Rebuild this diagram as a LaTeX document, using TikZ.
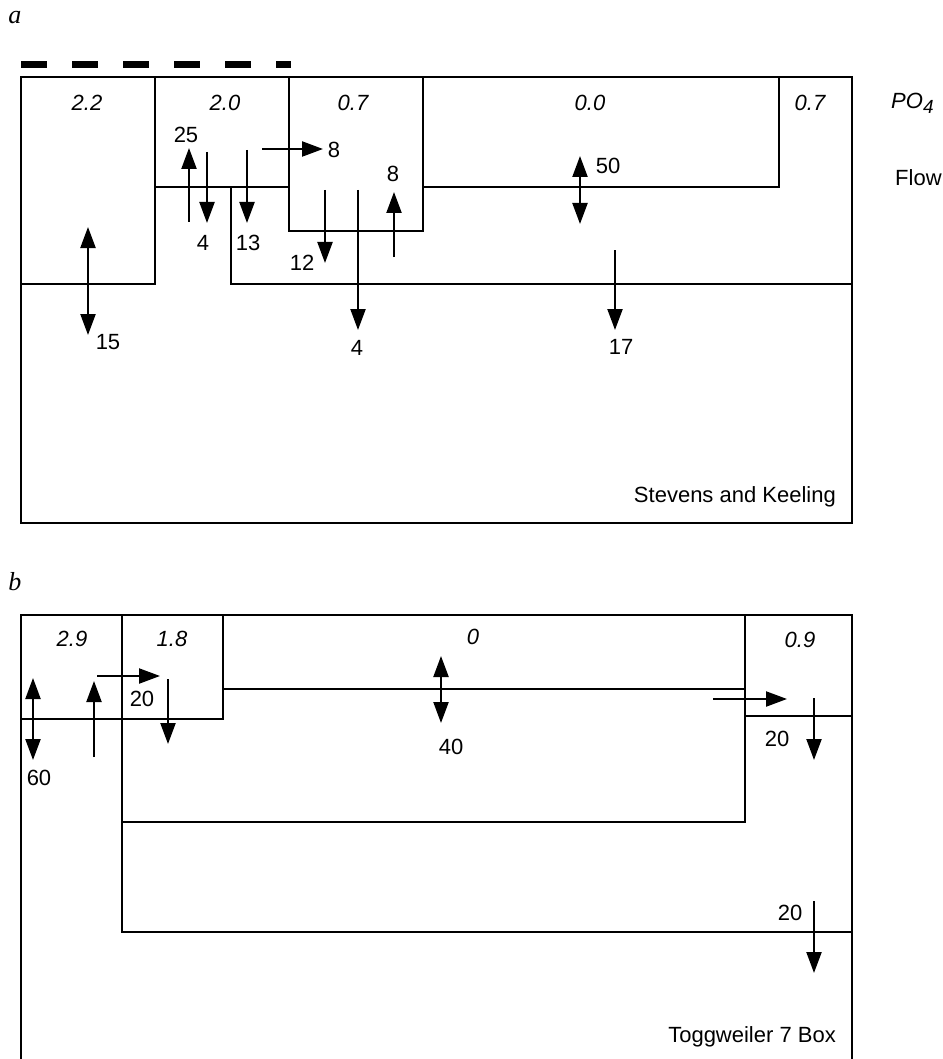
\documentclass[tikz,border=0pt]{standalone}
\usepackage{fontspec}
\setmainfont{Liberation Sans}
\newfontfamily\panelfont{Liberation Serif}
\usetikzlibrary{arrows.meta}

\begin{document}
\begin{tikzpicture}[
  x=1pt, y=-1pt,
  wall/.style={line width=2pt, line cap=rect},
  arrow/.style={-{Triangle[length=21pt, width=15pt]}, line width=2.2pt},
  twoway/.style={{Triangle[length=21pt, width=15pt]}-{Triangle[length=21pt, width=15pt]}, line width=2.2pt},
  conc/.style={font=\fontsize{22}{26}\selectfont\itshape, inner sep=0pt},
  flux/.style={font=\fontsize{22}{26}\selectfont, inner sep=0pt},
  panel/.style={font=\panelfont\fontsize{26}{30}\selectfont\itshape, inner sep=0pt},
]
  \useasboundingbox (0,0) rectangle (942,1059);

  % panel a: Stevens and Keeling
  \node[panel] (lbl_a) at (15,18) {a};
  \draw[line width=7pt, dash pattern=on 26pt off 25pt] (21,65) -- (291,65);
  \draw[wall] (21,77) rectangle (852,523);
  \draw[wall] (155,77) -- (155,284) -- (21,284);
  \draw[wall] (155,187) -- (289,187);
  \draw[wall] (289,77) -- (289,231) -- (423,231) -- (423,77);
  \draw[wall] (231,187) -- (231,284) -- (852,284);
  \draw[wall] (423,187) -- (779,187) -- (779,77);

  \node[conc] (a_polar)  at (87,103)  {2.2};
  \node[conc] (a_sub)    at (225,103) {2.0};
  \node[conc] (a_trans)  at (353,103) {0.7};
  \node[conc] (a_low)    at (590,103) {0.0};
  \node[conc] (a_north)  at (810,103) {0.7};
  \node[conc, anchor=west] (a_po4) at (891,103) {PO\raisebox{-5pt}{\fontsize{19}{21}\selectfont 4}};
  \node[flux, anchor=west] (a_flow) at (895,178) {Flow};
  \node[flux, anchor=south east] (a_name) at (836,507) {Stevens and Keeling};

  \draw[twoway] (88,227) -- (88,335);
  \node[flux] (f15) at (108,342) {15};
  \draw[arrow] (189,222) -- (189,148);
  \node[flux] (f25) at (186,135) {25};
  \draw[arrow] (207,152) -- (207,223);
  \node[flux] (f4a) at (203,243) {4};
  \draw[arrow] (247,150) -- (247,223);
  \node[flux] (f13) at (248,243) {13};
  \draw[arrow] (262,149) -- (323,149);
  \node[flux] (f8a) at (334,150) {8};
  \draw[arrow] (325,190) -- (325,263);
  \node[flux] (f12) at (302,263) {12};
  \draw[arrow] (358,190) -- (358,330);
  \node[flux] (f4b) at (357,348) {4};
  \draw[arrow] (394,257) -- (394,192);
  \node[flux] (f8b) at (393,174) {8};
  \draw[twoway] (580,156) -- (580,224);
  \node[flux] (f50) at (608,166) {50};
  \draw[arrow] (615,250) -- (615,330);
  \node[flux] (f17) at (621,347) {17};

  % panel b: Toggweiler 7 Box
  \node[panel] (lbl_b) at (15,582) {b};
  \draw[wall] (21,1059) -- (21,615) -- (852,615) -- (852,1059);
  \draw[wall] (21,719) -- (223,719) -- (223,615);
  \draw[wall] (122,615) -- (122,932) -- (852,932);
  \draw[wall] (223,689) -- (745,689);
  \draw[wall] (745,615) -- (745,822) -- (122,822);
  \draw[wall] (745,716) -- (852,716);

  \node[conc] (b_polar) at (72,639)  {2.9};
  \node[conc] (b_sub)   at (172,639) {1.8};
  \node[conc] (b_low)   at (473,637) {0};
  \node[conc] (b_north) at (800,640) {0.9};
  \node[flux, anchor=south east] (b_name) at (836,1047) {Toggweiler 7 Box};

  \draw[twoway] (33,678) -- (33,760);
  \node[flux] (f60) at (39,778) {60};
  \draw[arrow] (94,757) -- (94,681);
  \draw[arrow] (97,676) -- (160,676);
  \node[flux] (f20a) at (142,699) {20};
  \draw[arrow] (168,679) -- (168,744);
  \draw[twoway] (441,656) -- (441,723);
  \node[flux] (f40) at (451,747) {40};
  \draw[arrow] (713,699) -- (787,699);
  \draw[arrow] (814,698) -- (814,760);
  \node[flux] (f20b) at (777,739) {20};
  \draw[arrow] (814,901) -- (814,973);
  \node[flux] (f20c) at (790,913) {20};
\end{tikzpicture}
\end{document}
